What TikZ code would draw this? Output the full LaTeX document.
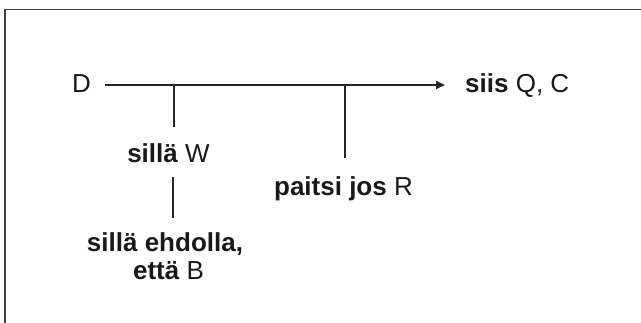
\documentclass[tikz,border=0pt]{standalone}
\usepackage{fontspec}
\setmainfont{Liberation Sans}
\usetikzlibrary{arrows.meta}
\tikzset{
  lbl/.style={font=\fontsize{26}{29}\selectfont, inner sep=0pt, text=black!90},
  conn/.style={line width=1.8pt, draw=black!85},
  frame/.style={line width=1.5pt, draw=black!75}
}
\begin{document}
\begin{tikzpicture}[x=1pt,y=-1pt]
\useasboundingbox (0,0) rectangle (641,323);
\begin{scope}
\clip (0,0) rectangle (641,323);
\draw[frame] (5,9.5) rectangle (700,400);
\end{scope}
\node[lbl, anchor=base] (D) at (81.5,93) {D};
\node[lbl, anchor=base west] (C) at (465,93) {\textbf{siis} Q, C};
\node[lbl, anchor=base] (W) at (168.5,163) {\textbf{sillä} W};
\node[lbl, anchor=base] (R) at (343.5,196) {\textbf{paitsi jos} R};
\node[lbl, anchor=base] (B1) at (165,252) {\textbf{sillä ehdolla,}};
\node[lbl, anchor=base] (B2) at (168.5,280) {\textbf{että} B};
\coordinate (start) at (105,85);
\coordinate (tip) at (445,85);
\coordinate (w1) at (174,85);
\coordinate (w2) at (174,127);
\coordinate (b1) at (173,177);
\coordinate (b2) at (173,218);
\coordinate (r1) at (345,85);
\coordinate (r2) at (345,158);
\draw[conn, -{Triangle[length=9pt,width=8pt]}] (start) -- (tip);
\draw[conn] (w1) -- (w2);
\draw[conn] (b1) -- (b2);
\draw[conn] (r1) -- (r2);
\end{tikzpicture}
\end{document}
